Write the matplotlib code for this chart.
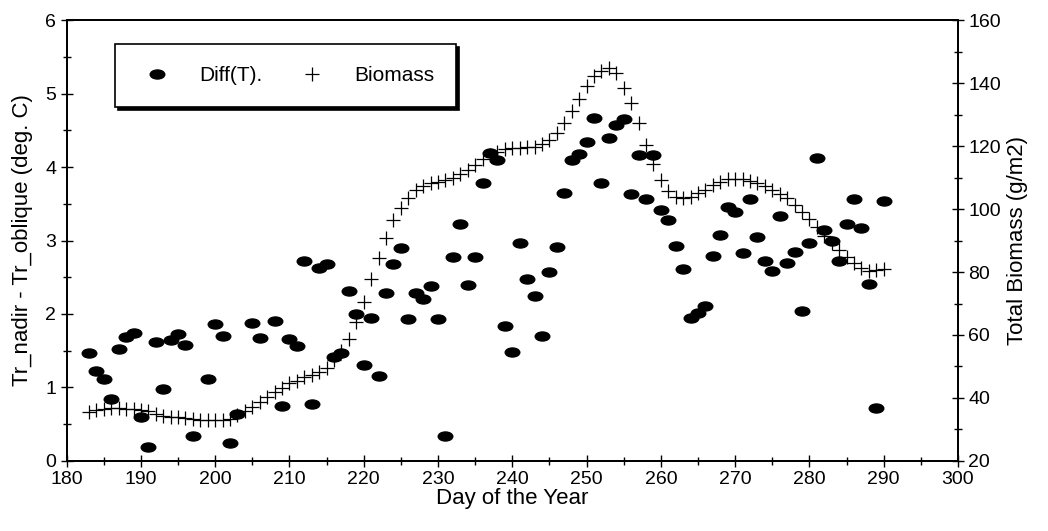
import matplotlib
matplotlib.use('Agg')
import matplotlib.pyplot as plt
import numpy as np
from matplotlib.path import Path
from matplotlib.transforms import Affine2D
from matplotlib.ticker import MultipleLocator

plt.rcParams['font.family'] = ['Liberation Sans', 'DejaVu Sans']

# temperature difference, one reading per day (a few days missing)
diff_days = [183, 184, 185, 186, 187, 188, 189, 190, 191, 192, 193, 194, 195, 196, 197,
             199, 200, 201, 202, 203, 205, 206, 208, 209, 210, 211, 212, 213, 214, 215,
             216, 217, 218, 219, 220, 221, 222, 223, 224, 225, 226, 227, 228, 229, 230,
             231, 232, 233, 234, 235, 236, 237, 238, 239, 240, 241, 242, 243, 244, 245,
             246, 247, 248, 249, 250, 251, 252, 253, 254, 255, 256, 257, 258, 259, 260,
             261, 262, 263, 264, 265, 266, 267, 268, 269, 270, 271, 272, 273, 274, 275,
             276, 277, 278, 279, 280, 281, 282, 283, 284, 285, 286, 287, 288, 289, 290]
diff_t = [1.47, 1.23, 1.11, 0.84, 1.52, 1.69, 1.74, 0.60, 0.19, 1.62, 0.98, 1.64, 1.73, 1.58, 0.34,
          1.12, 1.86, 1.70, 0.24, 0.64, 1.88, 1.68, 1.91, 0.75, 1.66, 1.57, 2.72, 0.78, 2.63, 2.68,
          1.42, 1.47, 2.31, 2.00, 1.31, 1.95, 1.15, 2.28, 2.68, 2.90, 1.93, 2.28, 2.21, 2.38, 1.93,
          0.34, 2.78, 3.22, 2.39, 2.78, 3.79, 4.19, 4.09, 1.84, 1.48, 2.97, 2.48, 2.25, 1.70, 2.57,
          2.91, 3.65, 4.09, 4.18, 4.34, 4.67, 3.79, 4.40, 4.57, 4.66, 3.63, 4.16, 3.56, 4.17, 3.42,
          3.28, 2.92, 2.61, 1.94, 2.01, 2.11, 2.79, 3.07, 3.46, 3.39, 2.83, 3.56, 3.05, 2.72, 2.59,
          3.33, 2.70, 2.85, 2.04, 2.96, 4.13, 3.14, 2.99, 2.72, 3.23, 3.56, 3.17, 2.41, 0.72, 3.54]

# total biomass, daily 183..290
bio_days = list(range(183, 291))
biomass = [35.6, 36.1, 36.5, 36.7, 36.7, 36.6, 36.4, 36.2, 35.7, 35.0, 34.4, 34.1, 33.8, 33.6, 33.3,
           33.1, 33.0, 32.9, 33.0, 33.2, 34.6, 36.0, 37.2, 38.6, 40.3, 41.9, 43.2, 44.6, 45.5, 46.5,
           47.4, 48.3, 49.5, 52.1, 54.8, 58.7, 64.2, 70.6, 77.7, 84.3, 90.8, 96.4, 100.4, 103.6, 106.0,
           107.3, 108.2, 108.7, 109.2, 109.9, 111.1, 112.4, 114.0, 115.8, 117.1, 118.2, 119.0, 119.3, 119.5,
           119.6, 119.8, 120.6, 121.9, 124.2, 127.4, 131.1, 135.1, 139.0, 142.2, 143.9, 144.7, 143.1, 138.4,
           133.6, 127.2, 120.5, 114.3, 109.2, 105.8, 103.9, 103.4, 103.9, 105.2, 106.2, 107.6, 108.7, 109.4,
           109.5, 109.5, 109.0, 108.2, 107.3, 106.0, 104.8, 103.4, 101.3, 99.1, 96.7, 94.4, 91.4, 89.1,
           87.0, 84.9, 82.9, 81.4, 80.4, 80.6, 80.9]

# flat ellipse marker for the temperature points
ellipse = Path.unit_circle().transformed(Affine2D().scale(1.0, 0.62))

fig = plt.figure(figsize=(10.48, 5.31), dpi=100)
ax = fig.add_axes([0.0636, 0.132, 0.8505, 0.830])
ax2 = ax.twinx()

dots, = ax.plot(diff_days, diff_t, ls='none', marker=ellipse, ms=10.5,
                mfc='black', mec='black', label='Diff(T).')
plus, = ax2.plot(bio_days, biomass, ls='none', marker='+', ms=10, mew=0.9,
                 color='black', label='Biomass')

ax.set_xlim(180, 300)
ax.set_ylim(0, 6)
ax2.set_ylim(20, 160)

ax.xaxis.set_major_locator(MultipleLocator(10))
ax.xaxis.set_minor_locator(MultipleLocator(5))
ax.yaxis.set_major_locator(MultipleLocator(1))
ax.yaxis.set_minor_locator(MultipleLocator(0.5))
ax2.yaxis.set_major_locator(MultipleLocator(20))
ax2.yaxis.set_minor_locator(MultipleLocator(10))

for a in (ax, ax2):
    a.tick_params(which='major', direction='inout', length=8, width=1, labelsize=14, color='black')
    a.tick_params(which='minor', direction='inout', length=6, width=1)
    for sp in a.spines.values():
        sp.set_linewidth(1.3)
ax.tick_params(axis='x', pad=3)

ax.set_xlabel('Day of the Year', fontsize=16, labelpad=0)
ax.set_ylabel('Tr_nadir - Tr_oblique (deg. C)', fontsize=16, labelpad=9)
ax2.set_ylabel('Total Biomass (g/m2)', fontsize=16, labelpad=4)

leg = ax2.legend([dots, plus], ['Diff(T).', 'Biomass'], ncol=2, loc='upper left',
                 bbox_to_anchor=(0.054, 0.946), borderaxespad=0, fontsize=15,
                 frameon=True, fancybox=False,
                 shadow={'color': 'black', 'alpha': 1}, framealpha=1, edgecolor='black',
                 borderpad=1.05, handlelength=2.0, handletextpad=1.0, columnspacing=1.4)
leg.get_frame().set_linewidth(1.2)

fig.savefig('out.png', dpi=100)
